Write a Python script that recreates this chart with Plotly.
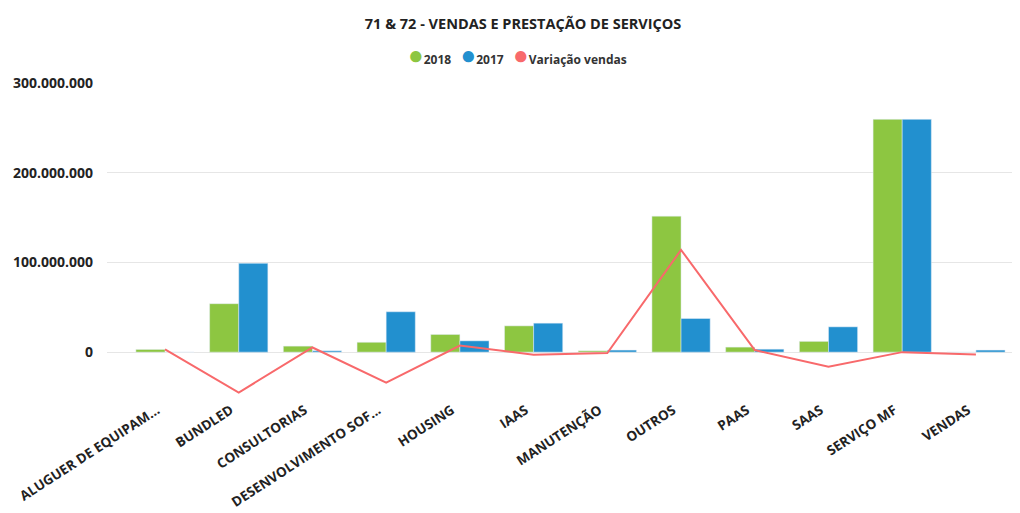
import plotly.graph_objects as go

categories = ["ALUGUER DE EQUIPAM...", "BUNDLED", "CONSULTORIAS", "DESENVOLVIMENTO SOF...",
              "HOUSING", "IAAS", "MANUTENÇÃO", "OUTROS", "PAAS", "SAAS", "SERVIÇO MF", "VENDAS"]
v2018 = [3.0e6, 54e6, 6.7e6, 11e6, 19.7e6, 29.3e6, 1.5e6, 151.6e6, 5.6e6, 12e6, 259.5e6, 0]
v2017 = [0.0, 99e6, 1.5e6, 45e6, 12.6e6, 32.3e6, 2.3e6, 37.5e6, 3.3e6, 28.2e6, 259.5e6, 2.3e6]
variacao = [3.0e6, -45e6, 5.2e6, -34e6, 7.4e6, -3.0e6, -1.0e6, 114e6, 2.3e6, -16.2e6, 0.0, -2.5e6]
series_names = ["2018", "2017", "Variação vendas"]

GREEN = "#8DC641"
BLUE = "#2290CF"
RED = "#F8696B"
COLORS = [GREEN, BLUE, RED]
FONT = "Open Sans"

fig = go.Figure()
fig.add_trace(go.Bar(x=categories, y=v2018, name=series_names[0], marker=dict(color=GREEN)))
fig.add_trace(go.Bar(x=categories, y=v2017, name=series_names[1], marker=dict(color=BLUE)))
fig.add_trace(go.Scatter(x=categories, y=variacao, name=series_names[2], mode="lines",
                         line=dict(color=RED, width=2)))

# compact legend with round markers (as in the reference)
legend_html = "&nbsp;&nbsp;&nbsp;".join(
    f"<span style='color:{c};font-size:26px'>●</span>{n}" for n, c in zip(series_names, COLORS))

L, R, T, B = 99, 13, 75, 124
W, H = 1020, 513
fig.add_annotation(text=f"<b>{legend_html}</b>", xref="paper", yref="paper",
                   x=(509.5 - L) / (W - L - R), y=1 + (T - 46) / (H - T - B),
                   xanchor="center", yanchor="middle", showarrow=False,
                   font=dict(family=FONT, size=12, color="#333333"))

fig.update_layout(
    width=W, height=H,
    margin=dict(l=L, r=R, t=T, b=B),
    paper_bgcolor="white", plot_bgcolor="white",
    separators=",.",
    barmode="group", bargap=0.21, bargroupgap=0,
    showlegend=False,
    title=dict(text="<b>71 & 72 - VENDAS E PRESTAÇÃO DE SERVIÇOS</b>",
               x=0.505, xref="container", xanchor="center", y=1 - 16 / 513, yref="container",
               yanchor="middle", font=dict(family=FONT, size=14.5, color="#222222")),
    font=dict(family=FONT),
)

fig.update_xaxes(type="category", range=[-0.787, 11.53], showgrid=False, showline=False,
                 automargin=False, tickangle=-33, ticks="", ticklabelshift=-8, ticklabelstandoff=2,
                 tickfont=dict(family=FONT, size=13.5, color="#222222", weight="bold"))
fig.update_yaxes(range=[-50e6, 300e6], tickvals=[0, 100e6, 200e6, 300e6], tickformat=",d",
                 automargin=False,
                 showgrid=True, gridcolor="#E6E6E6", gridwidth=1, zeroline=True, zerolinecolor="#E6E6E6",
                 zerolinewidth=1, showline=False, ticks="", ticklabelstandoff=13,
                 tickfont=dict(family=FONT, size=14, color="#222222", weight="bold"))

fig.write_html("out.html")
